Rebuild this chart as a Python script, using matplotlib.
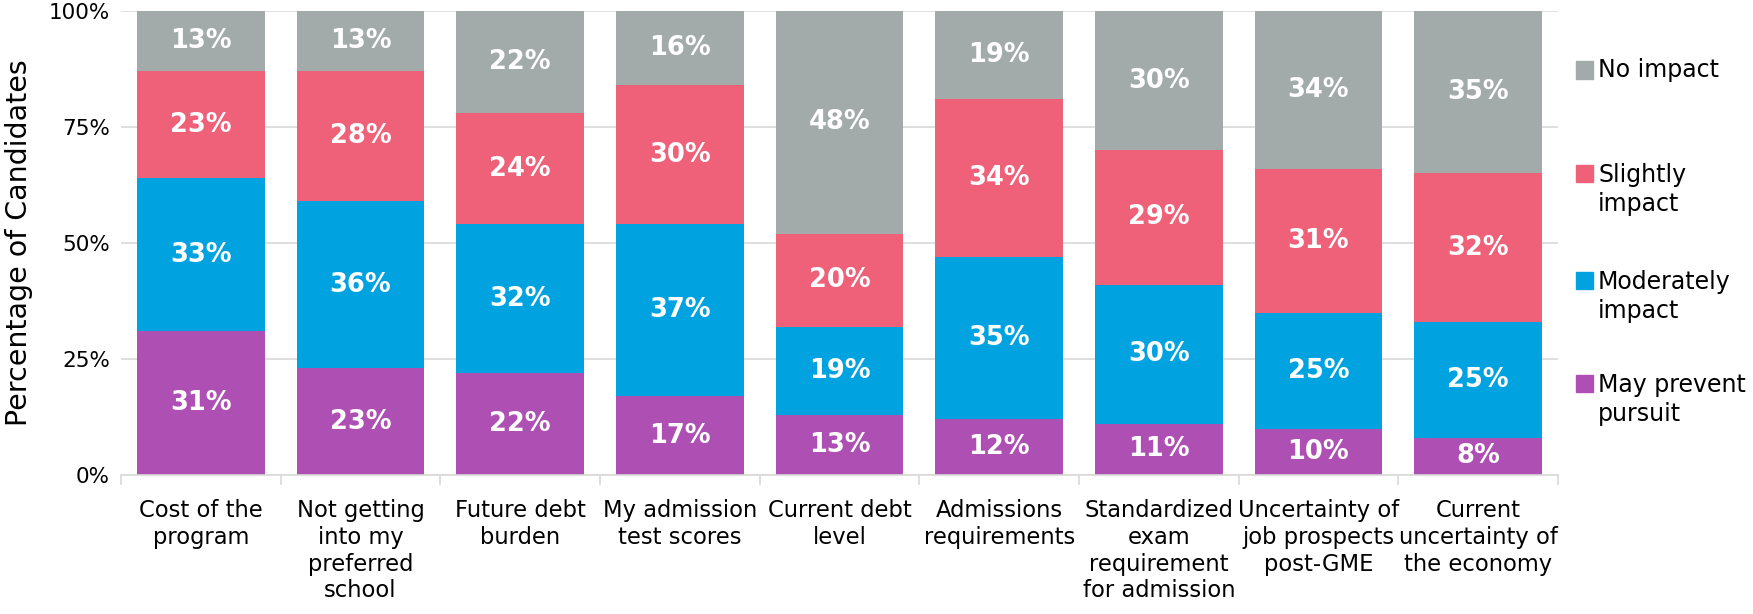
import matplotlib.pyplot as plt
from matplotlib.patches import Rectangle
import numpy as np

categories = ['Cost of the\nprogram', 'Not getting\ninto my\npreferred\nschool',
              'Future debt\nburden', 'My admission\ntest scores', 'Current debt\nlevel',
              'Admissions\nrequirements', 'Standardized\nexam\nrequirement\nfor admission',
              'Uncertainty of\njob prospects\npost-GME', 'Current\nuncertainty of\nthe economy']
may_prevent = [31, 23, 22, 17, 13, 12, 11, 10, 8]
moderately = [33, 36, 32, 37, 19, 35, 30, 25, 25]
slightly = [23, 28, 24, 30, 20, 34, 29, 31, 32]
no_impact = [13, 13, 22, 16, 48, 19, 30, 34, 35]

series_names = ['May prevent\npursuit', 'Moderately\nimpact', 'Slightly\nimpact', 'No impact']
colors = ['#AE4FB4', '#00A3E0', '#EF6079', '#A2AAAA']

W, H = 1753, 614


def main():
    plt.rcParams['font.family'] = ['DejaVu Sans']
    fig = plt.figure(figsize=(W / 100, H / 100), dpi=100)
    ax = fig.add_axes([121 / W, 1 - 475 / H, 1437 / W, 464 / H])

    x = np.arange(len(categories))
    bottom = np.zeros(len(categories))
    for vals, name, col in zip([may_prevent, moderately, slightly, no_impact], series_names, colors):
        vals = np.array(vals, dtype=float)
        ax.bar(x, vals, 0.8, bottom=bottom, color=col, label=name, zorder=2)
        for xi, v, b0 in zip(x, vals, bottom):
            ax.text(xi, b0 + v / 2, '%d%%' % v, ha='center', va='center',
                    color='white', fontsize=18.5, fontweight='bold', zorder=3)
        bottom += vals

    ax.set_xlim(-0.5, len(categories) - 0.5)
    ax.set_ylim(0, 100)
    ax.set_yticks([0, 25, 50, 75, 100])
    ax.set_yticklabels(['0%', '25%', '50%', '75%', '100%'], fontsize=15.5)
    ax.set_xticks(x)
    ax.set_xticklabels(categories, fontsize=16.3, va='top', linespacing=1.22)
    ax.set_xticks(np.arange(len(categories) + 1) - 0.5, minor=True)
    ax.tick_params(axis='x', which='major', length=0, pad=17)
    ax.tick_params(axis='x', which='minor', length=7, color='#D9D9D9', width=1.2)
    ax.tick_params(axis='y', length=0, pad=8)
    ax.yaxis.grid(True, color='#D9D9D9', linewidth=1.2, zorder=0)
    for s in ['top', 'right', 'left']:
        ax.spines[s].set_visible(False)
    ax.spines['bottom'].set_color('#D9D9D9')
    ax.spines['bottom'].set_linewidth(1.2)
    ax.set_ylabel('Percentage of Candidates', fontsize=20.5, labelpad=11)

    # legend drawn by hand so the marker sits on the first text line, like Excel
    centers = [70, 173, 280, 383]
    line_px = 33.5
    sq = 17
    for name, col, cy in zip(series_names[::-1], colors[::-1], centers):
        fig.patches.append(Rectangle((1576 / W, 1 - (cy + sq / 2) / H), sq / W, sq / H,
                                     transform=fig.transFigure, color=col))
        nlines = name.count('\n') + 1
        ty = cy + (nlines - 1) * line_px / 2
        fig.text(1598 / W, 1 - ty / H, name, fontsize=17, va='center', ha='left',
                 linespacing=1.25)

    fig.savefig('out.png', dpi=100)
    plt.close()


if __name__ == '__main__':
    main()
